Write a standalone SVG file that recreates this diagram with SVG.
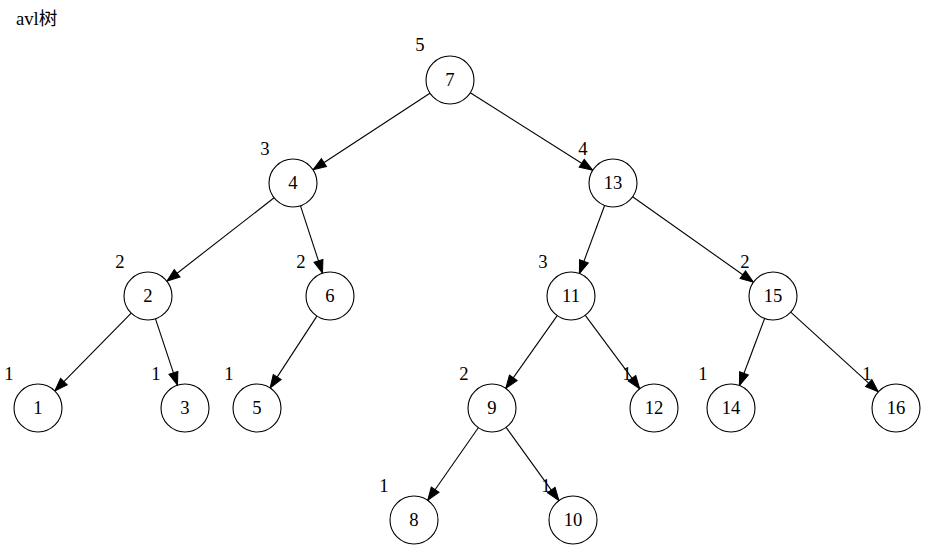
<svg xmlns="http://www.w3.org/2000/svg" width="929" height="558" viewBox="0 0 929 558">
<style>
text{font-family:"Liberation Serif","Times New Roman","Noto Sans CJK SC",serif;font-size:18.67px;fill:#000}
.n circle{fill:#fff;stroke:#000;stroke-width:1.1}
.n text{text-anchor:middle}
#edges line{stroke:#000;stroke-width:1.1;marker-end:url(#arr)}
</style>
<defs>
<marker id="arr" markerUnits="userSpaceOnUse" markerWidth="14" markerHeight="10" refX="13" refY="4.7" orient="auto" overflow="visible">
<path d="M0,0 L13,4.7 L0,9.4 z" fill="#000" stroke="#000"/>
</marker>
</defs>
<rect width="929" height="558" fill="#fff"/>
<text x="16" y="25">avl树</text>
<g id="edges">
<line x1="429.9" y1="93.2" x2="313.1" y2="169.8"/>
<line x1="470.3" y1="92.8" x2="592.7" y2="170.2"/>
<line x1="274.1" y1="197.8" x2="166.9" y2="281.2"/>
<line x1="300.5" y1="205.8" x2="322.5" y2="273.2"/>
<line x1="604.6" y1="205.5" x2="579.4" y2="273.5"/>
<line x1="632.6" y1="196.8" x2="753.4" y2="282.2"/>
<line x1="131.2" y1="313.1" x2="54.8" y2="390.9"/>
<line x1="155.5" y1="318.8" x2="177.5" y2="385.2"/>
<line x1="316.9" y1="316.1" x2="270.1" y2="387.9"/>
<line x1="557.2" y1="315.6" x2="505.8" y2="388.4"/>
<line x1="585.3" y1="315.3" x2="639.7" y2="388.7"/>
<line x1="764.6" y1="318.5" x2="739.4" y2="385.5"/>
<line x1="790.7" y1="312.2" x2="878.3" y2="391.8"/>
<line x1="478.3" y1="427.7" x2="427.7" y2="500.3"/>
<line x1="506.1" y1="427.4" x2="558.9" y2="500.6"/>
</g>
<g id="n7" class="n"><circle cx="450" cy="80" r="24"/><text x="450" y="86">7</text></g>
<g id="n4" class="n"><circle cx="293" cy="183" r="24"/><text x="293" y="189">4</text></g>
<g id="n13" class="n"><circle cx="613" cy="183" r="24"/><text x="613" y="189">13</text></g>
<g id="n2" class="n"><circle cx="148" cy="296" r="24"/><text x="148" y="302">2</text></g>
<g id="n6" class="n"><circle cx="330" cy="296" r="24"/><text x="330" y="302">6</text></g>
<g id="n11" class="n"><circle cx="571" cy="296" r="24"/><text x="571" y="302">11</text></g>
<g id="n15" class="n"><circle cx="773" cy="296" r="24"/><text x="773" y="302">15</text></g>
<g id="n1" class="n"><circle cx="38" cy="408" r="24"/><text x="38" y="414">1</text></g>
<g id="n3" class="n"><circle cx="185" cy="408" r="24"/><text x="185" y="414">3</text></g>
<g id="n5" class="n"><circle cx="257" cy="408" r="24"/><text x="257" y="414">5</text></g>
<g id="n9" class="n"><circle cx="492" cy="408" r="24"/><text x="492" y="414">9</text></g>
<g id="n12" class="n"><circle cx="654" cy="408" r="24"/><text x="654" y="414">12</text></g>
<g id="n14" class="n"><circle cx="731" cy="408" r="24"/><text x="731" y="414">14</text></g>
<g id="n16" class="n"><circle cx="896" cy="408" r="24"/><text x="896" y="414">16</text></g>
<g id="n8" class="n"><circle cx="414" cy="520" r="24"/><text x="414" y="526">8</text></g>
<g id="n10" class="n"><circle cx="573" cy="520" r="24"/><text x="573" y="526">10</text></g>
<g id="xlabels" text-anchor="middle">
<text x="420" y="51">5</text>
<text x="265" y="155">3</text>
<text x="583" y="155">4</text>
<text x="120" y="268">2</text>
<text x="301" y="268">2</text>
<text x="543" y="268">3</text>
<text x="745" y="268">2</text>
<text x="9" y="380">1</text>
<text x="156" y="380">1</text>
<text x="229" y="380">1</text>
<text x="464" y="380">2</text>
<text x="627" y="380">1</text>
<text x="703" y="380">1</text>
<text x="867" y="380">1</text>
<text x="384" y="492">1</text>
<text x="546" y="492">1</text>
</g>
</svg>
